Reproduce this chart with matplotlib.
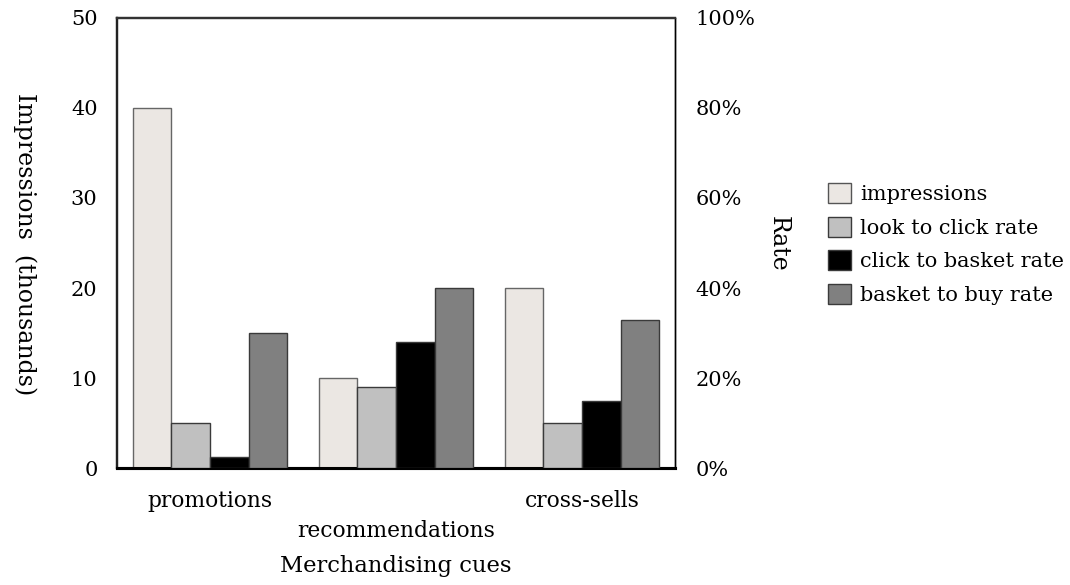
import matplotlib
matplotlib.use("Agg")
import matplotlib.pyplot as plt
import numpy as np
from matplotlib.ticker import FuncFormatter
from matplotlib.patches import Patch

plt.rcParams['font.family'] = ['DejaVu Serif']

categories = ["promotions", "recommendations", "cross-sells"]
impressions = [40, 10, 20]            # thousands
look_to_click = [10, 18, 10]          # %
click_to_basket = [2.5, 28, 15]       # %
basket_to_buy = [30, 40, 33]          # %
series_names = ["impressions", "look to click rate", "click to basket rate", "basket to buy rate"]
left_ticks = [0, 10, 20, 30, 40, 50]
right_ticks = [0, 20, 40, 60, 80, 100]

fig = plt.figure(figsize=(10.7, 5.85), dpi=100)
ax = fig.add_axes([117/1070, 117/585, 558/1070, 450/585])
ax2 = ax.twinx()

x = np.arange(len(categories))
w = 0.208
offs = [-1.5, -0.5, 0.5, 1.5]
ec = '#3a3a3a'

ax.bar(x + offs[0]*w, impressions, w, color='#ebe7e3', edgecolor='#666666', linewidth=1, zorder=3)
ax2.bar(x + offs[1]*w, look_to_click, w, color='#c0c0c0', edgecolor=ec, linewidth=1, zorder=3)
ax2.bar(x + offs[2]*w, click_to_basket, w, color='#000000', edgecolor=ec, linewidth=1, zorder=3)
ax2.bar(x + offs[3]*w, basket_to_buy, w, color='#808080', edgecolor=ec, linewidth=1, zorder=3)

ax.set_xlim(-0.5, 2.5)
ax.set_ylim(0, 50)
ax2.set_ylim(0, 100)
ax.set_yticks(left_ticks)
ax2.set_yticks(right_ticks)
ax2.yaxis.set_major_formatter(FuncFormatter(lambda v, p: f"{int(v)}%"))

ax.tick_params(axis='y', length=0, pad=14, labelsize=15)
ax2.tick_params(axis='y', length=0, pad=15, labelsize=15)
ax.set_xticks([])

for a in (ax, ax2):
    a.spines['left'].set_linewidth(1.6)
    a.spines['left'].set_color('#222222')
    a.spines['bottom'].set_linewidth(2.2)
    a.spines['right'].set_linewidth(1)
    a.spines['top'].set_linewidth(1.6)
    a.spines['top'].set_color('#333333')

# staggered category labels
for i, c in enumerate(categories):
    yoff = -33 if i % 2 == 0 else -63
    ax.annotate(c, xy=(x[i], 0), xycoords='data', xytext=(0, yoff),
                textcoords='offset pixels', ha='center', va='center', fontsize=15.7)

fig.text(396/1070, 1 - 566/585, "Merchandising cues", ha='center', va='center', fontsize=16.3)
fig.text(25/1070, 1 - 244/585, "Impressions  (thousands)", rotation=270, ha='center', va='center', fontsize=17)
fig.text(778/1070, 1 - 244/585, "Rate", rotation=270, ha='center', va='center', fontsize=17)

handles = [Patch(facecolor='#ebe7e3', edgecolor='#555555'),
           Patch(facecolor='#c0c0c0', edgecolor=ec),
           Patch(facecolor='#000000', edgecolor=ec),
           Patch(facecolor='#808080', edgecolor=ec)]
fig.legend(handles, series_names, loc='center left', bbox_to_anchor=(828/1070, 1 - 244/585),
           frameon=False, fontsize=15, handlelength=1.1, handleheight=1.1,
           handletextpad=0.45, labelspacing=0.6, borderpad=0, borderaxespad=0)

fig.savefig("out.png", dpi=100)
